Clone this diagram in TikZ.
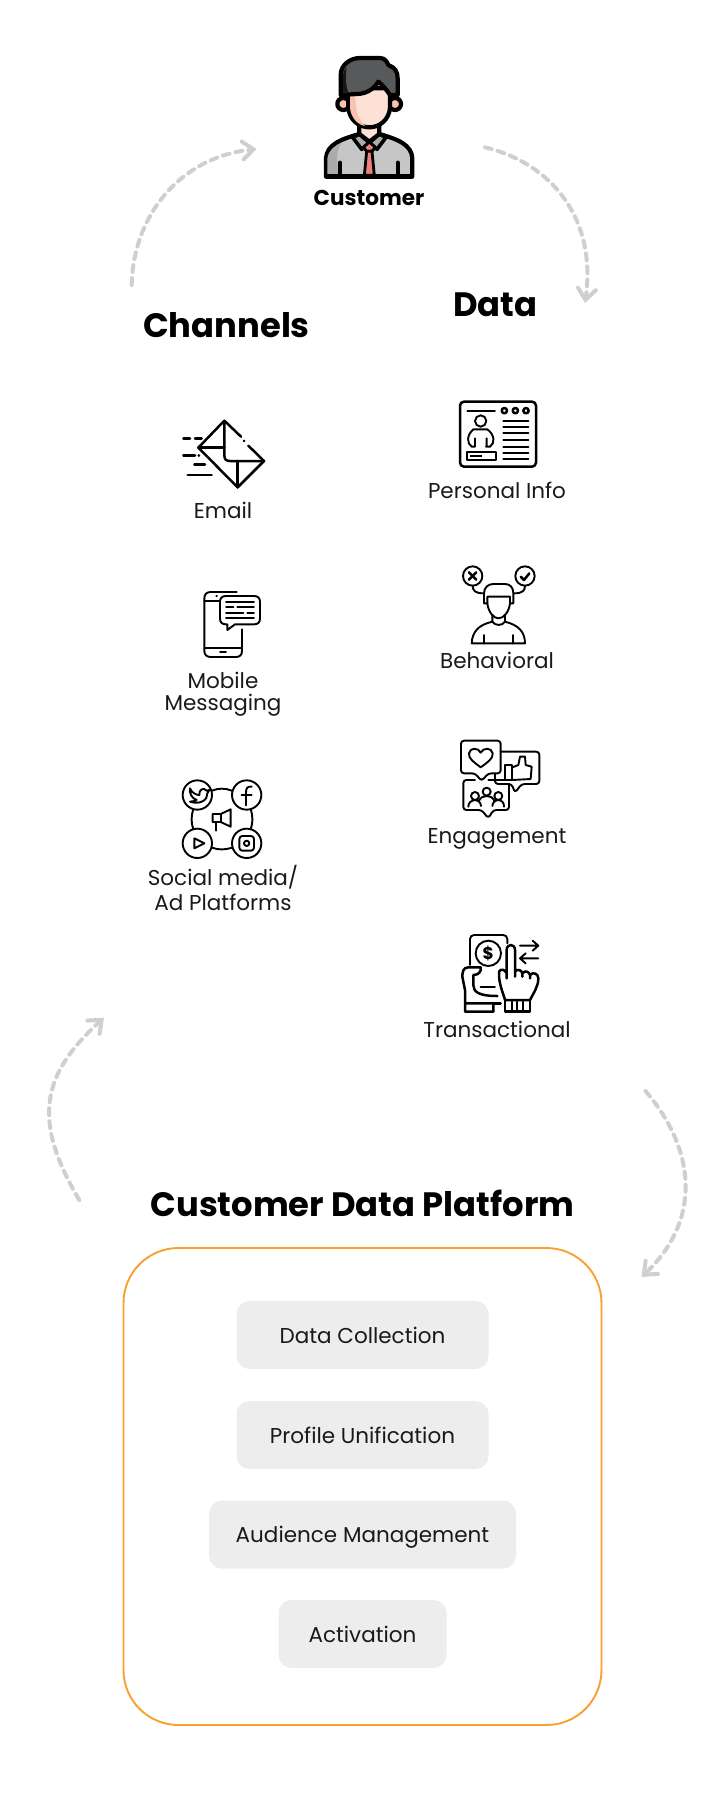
\documentclass[tikz,border=0pt]{standalone}
\usepackage{fontspec}
\setmainfont{Poppins}
\usetikzlibrary{arrows.meta}
\definecolor{flowgrey}{HTML}{CFCFCF}
\definecolor{pillgrey}{HTML}{EDEDED}
\definecolor{boxorange}{HTML}{F8A030}
\definecolor{hairc}{HTML}{58595B}
\definecolor{skinc}{HTML}{FDE1D5}
\definecolor{skind}{HTML}{F9C3AF}
\definecolor{suitc}{HTML}{C6C6C6}
\definecolor{suitd}{HTML}{ABABAB}
\definecolor{tiec}{HTML}{EE7F7B}
\tikzset{
  x=1pt,y=-1pt,
  flow/.style={draw=flowgrey,line width=4pt,dash pattern=on 7pt off 6pt,line cap=round,
    -{Straight Barb[length=11pt,width=18pt,line width=4pt,line cap=round]}},
  ico/.style={line width=2.5pt,line cap=round,line join=round},
  thn/.style={line width=1.9pt,line cap=round,line join=round},
  cus/.style={line width=4.2pt,line cap=round,line join=round},
  head/.style={font=\fontsize{33.8}{36}\bfseries\selectfont,anchor=base,inner sep=0pt,text=black},
  lab/.style={font=\fontsize{21.5}{24}\selectfont,anchor=base,inner sep=0pt,text=black!90},
  pill/.style={fill=pillgrey,rounded corners=13pt,inner sep=0pt,minimum height=68pt,
    font=\fontsize{21.5}{24}\selectfont,text=black!90,text height=16pt,text depth=0pt,anchor=center},
}
\begin{document}
\begin{tikzpicture}
\useasboundingbox (0,0) rectangle (725,1812);
% ---------- CDP box and steps
\node[draw=boxorange,line width=1.9pt,rounded corners=55pt,minimum width=478pt,minimum height=477pt,inner sep=0pt] (cdp) at (362.5,1486.5) {};
\node[pill,minimum width=252pt] (collect) at (362.5,1335) {Data Collection};
\node[pill,minimum width=252pt] (unify) at (362.5,1435) {Profile Unification};
\node[pill,minimum width=307pt] (audience) at (362.5,1534.5) {Audience Management};
\node[pill,minimum width=168pt] (activate) at (362.5,1634) {Activation};
% ---------- headings
\node[head,font=\fontsize{21.5}{24}\bfseries\selectfont] (customer) at (369,205) {Customer};
\node[head] (channels) at (226.5,337) {Channels};
\node[head] (data) at (495.5,316) {Data};
\node[head] (platform) at (362.5,1216.5) {Customer Data Platform};
% ---------- labels
\node[lab] (email) at (223,518) {Email};
\node[lab] (mobile) at (223,688) {Mobile};
\node[lab] (messaging) at (223,710.7) {Messaging};
\node[lab] (social) at (223,885) {Social media/};
\node[lab] (adplat) at (223,910) {Ad Platforms};
\node[lab] (personal) at (497,498) {Personal Info};
\node[lab] (behav) at (497,668) {Behavioral};
\node[lab] (engage) at (497,843) {Engagement};
\node[lab] (trans) at (497,1037) {Transactional};
% ---------- flow arrows
\coordinate (f1s) at (131.7,285); \coordinate (f1e) at (256.7,149);
\coordinate (f2s) at (485,147.3); \coordinate (f2e) at (585,303);
\coordinate (f3s) at (79.3,1200); \coordinate (f3e) at (104,1017.7);
\coordinate (f4s) at (645.5,1091); \coordinate (f4e) at (641.5,1277);
\draw[flow] (f1s) .. controls (133,216) and (180,157) .. (f1e);
\draw[flow] (f2s) .. controls (550,163) and (597,217) .. (f2e);
\draw[flow] (f3s) .. controls (32,1120) and (41,1075) .. (f3e);
\draw[flow] (f4s) .. controls (696,1150) and (702,1220) .. (f4e);
% ---------- customer icon (zoom 1 coordinates)
\begin{scope}[shift={(100,30)},scale=0.33333]
 \draw[cus,fill=skind] (730,222) circle (18) (885,222) circle (18);
 \draw[cus,fill=skinc] (778,285) -- (778,322) -- (808,345) -- (838,322) -- (838,285) -- cycle;
 % body
 \draw[cus,fill=suitc] (678,440) -- (678,385) .. controls (680,345) and (720,328) .. (778,312) -- (808,335) -- (838,312) .. controls (895,328) and (935,345) .. (937,385) -- (937,440) -- cycle;
 \fill[suitd] (682,436) -- (682,385) .. controls (684,365) and (700,350) .. (725,338) .. controls (705,365) and (712,400) .. (716,436) -- cycle;
 \draw[line width=3.6pt,line cap=round,line join=round,fill=suitd] (758,322) -- (778,313) -- (808,338) -- (785,358) -- cycle;
 \draw[line width=3.6pt,line cap=round,line join=round,fill=suitd] (858,322) -- (838,313) -- (808,338) -- (831,358) -- cycle;
 \draw[line width=2.8pt,line join=round,fill=tiec] (808,336) -- (826,352) -- (816,364) -- (800,364) -- (790,352) -- cycle;
 \draw[line width=2.8pt,line join=round,fill=tiec] (800,364) -- (793,436) -- (823,436) -- (816,364) -- cycle;
 \draw[cus] (720,438) -- (720,398) (893,438) -- (893,398);
 % face
 \draw[cus,fill=skinc] (745,175) -- (745,232) .. controls (747,268) and (775,292) .. (808,292) .. controls (840,292) and (868,268) .. (870,232) -- (870,175) -- cycle;
 \fill[skind] (750,198) -- (750,232) .. controls (752,262) and (772,284) .. (795,288) .. controls (775,270) and (766,240) .. (766,198) -- cycle;
 % hair
 \draw[cus,fill=hairc] (722,195) -- (722,135) .. controls (722,105) and (750,84) .. (780,84) -- (840,84) .. controls (855,84) and (860,95) .. (866,106) .. controls (885,112) and (893,125) .. (893,145) -- (893,195) -- (870,195) .. controls (860,180) and (848,165) .. (835,155) .. controls (820,180) and (795,192) .. (770,192) -- cycle;
 \fill[black!75!hairc] (728,188) -- (728,140) .. controls (728,130) and (732,120) .. (740,112) .. controls (735,140) and (738,170) .. (745,188) -- cycle;
 \draw[cus] (680,438) -- (935,438);
\end{scope}
% ---------- email icon (zoom 2)
\begin{scope}[shift={(140,380)},scale=0.33333]
 \draw[ico] (303,170) -- (253,122) -- (175,203) -- (293,322) -- (372,243) -- (325,197);
 \draw[ico] (312,182) -- (313,183);
 \draw[ico] (253,122) -- (253,225) .. controls (253,238) and (258,243) .. (270,243) -- (372,243);
 \draw[ico] (175,203) -- (253,203) (293,243) -- (293,322);
 \draw[ico] (130,175) -- (150,175) (165,175) -- (185,175) (130,227) -- (165,227) (176,227) -- (177,227) (163,253) -- (195,253) (143,285) -- (215,285);
\end{scope}
% ---------- phone icon (zoom 3)
\begin{scope}[shift={(140,570)},scale=0.33333]
 \draw[thn] (290,66) -- (212,66) .. controls (200,66) and (193,73) .. (193,85) -- (193,243) .. controls (193,254) and (200,261) .. (212,261) -- (288,261) .. controls (300,261) and (306,254) .. (306,243) -- (306,178);
 \draw[thn] (193,93) -- (238,93) (193,233) -- (306,233) (240,246) -- (258,246) (229,78) -- (231,78);
 \draw[thn] (258,78) -- (342,78) .. controls (354,78) and (360,84) .. (360,96) -- (360,145) .. controls (360,157) and (354,163) .. (342,163) -- (285,163) -- (262,180) -- (262,163) -- (258,163) .. controls (246,163) and (240,157) .. (240,145) -- (240,96) .. controls (240,84) and (246,78) .. (258,78) -- cycle;
 \draw[thn] (258,97) -- (342,97) (258,112) -- (280,112) (292,112) -- (342,112) (258,128) -- (310,128) (322,128) -- (342,128) (258,143) -- (342,143);
\end{scope}
% ---------- social icon (zoom 3)
\begin{scope}[shift={(140,570)},scale=0.33333]
 \draw[thn] (172,675) circle (44) (320,675) circle (44) (172,820) circle (44) (320,820) circle (44);
 \draw[thn] (216,662) .. controls (235,654) and (255,654) .. (276,662);
 \draw[thn] (216,833) .. controls (235,840) and (255,840) .. (276,833);
 \draw[thn] (160,717) .. controls (153,738) and (153,758) .. (160,778);
 \draw[thn] (332,717) .. controls (339,738) and (339,758) .. (332,778);
 % twitter
 \draw[thn] (150,655) .. controls (155,668) and (168,675) .. (178,675) .. controls (176,660) and (190,650) .. (200,662) -- (208,660) -- (202,670) .. controls (204,690) and (180,705) .. (150,695) .. controls (160,695) and (165,692) .. (170,690) .. controls (155,685) and (148,670) .. (150,655) -- cycle;
 % f
 \draw[thn] (335,650) .. controls (322,648) and (318,655) .. (318,668) -- (318,706) (305,675) -- (335,675);
 % play
 \draw[thn] (163,805) -- (193,820) -- (163,835) -- cycle;
 % instagram
 \draw[thn,rounded corners=3pt] (298,798) rectangle (342,842);
 \draw[thn] (320,820) circle (8);
 % megaphone
 \draw[thn] (272,718) -- (242,732) -- (218,732) -- (218,756) -- (242,756) -- (272,770) -- cycle;
 \draw[thn] (242,732) -- (242,756) (228,756) -- (228,782);
\end{scope}
% ---------- personal info icon (zoom 4)
\begin{scope}[shift={(410,380)},scale=0.33333]
 \draw[ico,rounded corners=4pt] (150,65) rectangle (378,260);
 \draw[thn] (172,92) -- (255,92);
 \draw[ico] (283,92) circle (8) (316,92) circle (8) (348,92) circle (8);
 \foreach \yy in {122,142,160,180,200,218,238} \draw[thn] (280,\yy) -- (355,\yy);
 \draw[thn] (212,123) circle (17);
 \draw[thn] (195,200) -- (185,200) .. controls (170,190) and (170,165) .. (190,148) -- (232,148) .. controls (255,165) and (255,190) .. (240,200) -- (228,200) (195,175) -- (195,200) (230,175) -- (230,200);
 \draw[thn] (172,215) rectangle (258,240);
 \draw[line width=1.4pt] (180,228) -- (215,228);
\end{scope}
% ---------- behavioral icon (zoom 4)
\begin{scope}[shift={(410,380)},scale=0.33333]
 \draw[thn] (188,588) circle (29) (345,588) circle (29);
 \draw[ico] (177,577) -- (199,599) (199,577) -- (177,599);
 \draw[ico] (332,590) -- (342,600) -- (358,580);
 \draw[thn] (188,617) .. controls (188,632) and (195,640) .. (222,640);
 \draw[thn] (345,617) .. controls (345,632) and (338,640) .. (312,640);
 \draw[thn] (222,670) -- (222,640) .. controls (222,622) and (235,612) .. (250,612) -- (285,612) .. controls (300,612) and (310,622) .. (310,640) -- (310,670) -- (300,670) -- (300,650) -- (232,650) -- (232,670) -- cycle;
 \draw[thn] (232,670) .. controls (235,695) and (250,715) .. (265,715) .. controls (282,715) and (297,695) .. (300,670);
 \draw[thn] (247,705) -- (247,725) .. controls (205,735) and (187,755) .. (185,790) -- (345,790) .. controls (345,755) and (325,735) .. (285,725) -- (285,705);
 \draw[thn] (247,725) .. controls (255,738) and (277,738) .. (285,725);
 \draw[thn] (222,765) -- (222,790) (310,765) -- (310,790);
\end{scope}
% ---------- engagement icon (zoom 5)
\begin{scope}[shift={(410,710)},scale=0.33333]
 \draw[thn,rounded corners=3pt] (153,92) -- (272,92) -- (272,190) -- (235,190) -- (215,213) -- (195,190) -- (153,190) -- cycle;
 \draw[thn] (212,172) .. controls (190,155) and (175,145) .. (177,130) .. controls (180,112) and (205,112) .. (212,128) .. controls (220,112) and (245,112) .. (248,130) .. controls (250,145) and (235,155) .. (212,172) -- cycle;
 \draw[thn,rounded corners=3pt] (272,125) -- (388,125) -- (388,222) -- (335,222) -- (315,248) -- (305,222) -- (255,222) -- (255,192);
 \draw[thn] (285,165) rectangle (307,210);
 \draw[thn] (307,172) -- (325,165) -- (330,140) -- (345,140) -- (347,165) -- (365,170) -- (362,207) -- (307,210);
 \draw[thn,rounded corners=3pt] (195,210) -- (160,210) -- (160,300) -- (215,300) -- (235,325) -- (250,300) -- (297,300) -- (297,222);
 \draw[thn] (235,210) -- (297,210);
 \draw[thn] (195,258) circle (12) (230,245) circle (12) (265,258) circle (12);
 \draw[thn] (175,290) .. controls (175,278) and (183,272) .. (195,270) .. controls (207,272) and (212,278) .. (213,288);
 \draw[thn] (207,272) .. controls (212,262) and (220,258) .. (230,258) .. controls (240,258) and (248,262) .. (253,272);
 \draw[thn] (282,290) .. controls (282,278) and (277,272) .. (265,270) .. controls (253,272) and (248,278) .. (247,288);
\end{scope}
% ---------- transactional icon (zoom 5)
\begin{scope}[shift={(410,710)},scale=0.33333]
 \draw[thn,rounded corners=4pt] (180,765) -- (180,675) -- (292,675) -- (292,700);
 \draw[thn] (235,730) circle (38);
 \node[font=\fontsize{17}{18}\bfseries\selectfont,inner sep=0pt] (dollar) at (235,730) {\$};
 \draw[thn] (330,707) -- (385,707) (368,692) -- (385,707) -- (368,722);
 \draw[thn] (385,745) -- (330,745) (347,730) -- (330,745) -- (347,760);
 \draw[ico] (290,805) -- (290,720) .. controls (290,700) and (315,700) .. (315,720) -- (315,790) (315,800) -- (315,785) .. controls (322,775) and (335,780) .. (337,790) -- (337,800) (337,790) .. controls (345,780) and (358,785) .. (360,795) -- (360,805) (360,795) .. controls (368,785) and (385,790) .. (385,805) .. controls (385,830) and (370,850) .. (360,870) -- (285,870) .. controls (280,850) and (265,820) .. (267,785) .. controls (272,775) and (285,778) .. (290,790);
 \draw[ico] (285,870) rectangle (360,905);
 \draw[thn] (305,875) -- (305,900) (322,875) -- (322,900) (340,875) -- (340,900);
 \draw[ico] (212,772) -- (175,772) .. controls (160,772) and (157,785) .. (157,800) -- (165,840) -- (165,905) -- (250,905) -- (250,880) -- (165,880);
 \draw[ico] (212,772) .. controls (215,785) and (205,795) .. (190,795) -- (190,825) .. controls (190,845) and (205,858) .. (262,858);
 \draw[thn] (212,830) -- (255,830);
 \draw[ico] (250,880) -- (272,880);
\end{scope}
\end{tikzpicture}
\end{document}
